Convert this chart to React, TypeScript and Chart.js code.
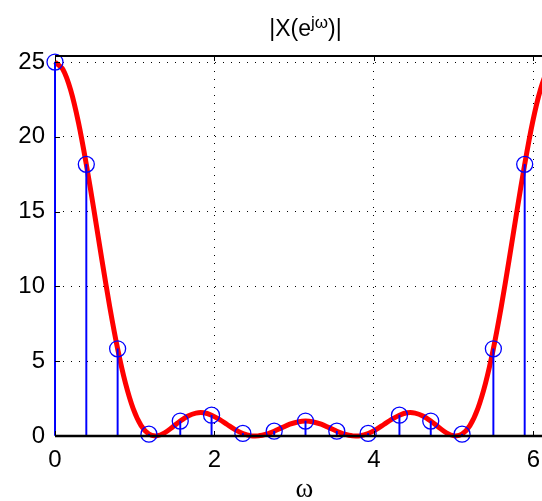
import { useEffect, useRef } from "react";
import { Chart, registerables } from "chart.js";

Chart.register(...registerables);

// continuous spectrum |X(e^jw)| samples
const curveOmega = [
  0, 0.0982, 0.1963, 0.2945, 0.3927, 0.4909, 0.589, 0.6872, 0.7854, 0.8836, 0.9817,
  1.0799, 1.1781, 1.2763, 1.3744, 1.4726, 1.5708, 1.669, 1.7671, 1.8653, 1.9635,
  2.0617, 2.1598, 2.258, 2.3562, 2.4544, 2.5525, 2.6507, 2.7489, 2.8471, 2.9452,
  3.0434, 3.1416, 3.2398, 3.3379, 3.4361, 3.5343, 3.6325, 3.7306, 3.8288, 3.927,
  4.0252, 4.1233, 4.2215, 4.3197, 4.4179, 4.516, 4.6142, 4.7124, 4.8106, 4.9087,
  5.0069, 5.1051, 5.2033, 5.3014, 5.3996, 5.4978, 5.596, 5.6941, 5.7923, 5.8905,
  5.9887, 6.0868, 6.185, 6.2832,
];
const curveMag = [
  25, 24.52, 23.13, 20.95, 18.16, 15.02, 11.75, 8.62, 5.83, 3.53, 1.81,
  0.69, 0.12, 0.01, 0.21, 0.59, 1.0, 1.34, 1.53, 1.55, 1.39,
  1.11, 0.77, 0.43, 0.17, 0.02, 0.01, 0.12, 0.32, 0.56, 0.79,
  0.94, 1.0, 0.94, 0.79, 0.56, 0.32, 0.12, 0.01, 0.02, 0.17,
  0.43, 0.77, 1.11, 1.39, 1.55, 1.53, 1.34, 1.0, 0.59, 0.21,
  0.01, 0.12, 0.69, 1.81, 3.53, 5.83, 8.62, 11.75, 15.02, 18.16,
  20.95, 23.13, 24.52, 25,
];

// DFT samples (stems)
const dftOmega = [
  0, 0.3927, 0.7854, 1.1781, 1.5708, 1.9635, 2.3562, 2.7489, 3.1416, 3.5343,
  3.927, 4.3197, 4.7124, 5.1051, 5.4978, 5.8905,
];
const dftMag = [
  25, 18.16, 5.83, 0.12, 1.0, 1.39, 0.17, 0.32, 1.0, 0.32, 0.17, 1.39, 1.0, 0.12,
  5.83, 18.16,
];

const xTicks = [0, 2, 4, 6];
const yTicks = [0, 5, 10, 15, 20, 25];
const xMin = 0;
const xMax = 6.2832;
const yMin = 0;
const yMax = 25.47;

const titleMain1 = "|X(e";
const titleSup = "jω";
const titleMain2 = ")|";
const xLabel = "ω";

const SANS = '"Liberation Sans", Arial, Helvetica, sans-serif';
const SERIF = '"Liberation Serif", "Times New Roman", serif';

const decorPlugin = {
  id: "decor",
  beforeDatasetsDraw(chart: any) {
    const { ctx, chartArea: a } = chart;
    ctx.save();
    ctx.strokeStyle = "#000";
    ctx.lineWidth = 1;
    ctx.beginPath();
    ctx.moveTo(a.left + 0.5, a.top);
    ctx.lineTo(a.left + 0.5, a.bottom);
    ctx.stroke();
    ctx.restore();
  },
  afterDatasetsDraw(chart: any) {
    const { ctx, chartArea: a, scales } = chart;
    const x = scales.x;
    const y = scales.y;
    ctx.save();
    ctx.strokeStyle = "#000";
    // top border
    ctx.lineWidth = 2;
    ctx.beginPath();
    ctx.moveTo(a.left, a.top + 1);
    ctx.lineTo(a.right, a.top + 1);
    ctx.stroke();
    // right border
    ctx.lineWidth = 1;
    ctx.beginPath();
    ctx.moveTo(a.right - 0.5, a.top);
    ctx.lineTo(a.right - 0.5, a.bottom);
    ctx.stroke();
    // baseline at 0
    const y0 = y.getPixelForValue(0);
    ctx.lineWidth = 2.5;
    ctx.beginPath();
    ctx.moveTo(a.left, y0);
    ctx.lineTo(a.right, y0);
    ctx.stroke();
    // tick marks
    ctx.lineWidth = 1;
    const tl = 5;
    ctx.beginPath();
    for (const v of xTicks) {
      const px = Math.round(x.getPixelForValue(v)) + 0.5;
      ctx.moveTo(px, a.top);
      ctx.lineTo(px, a.top + tl + 1);
      ctx.moveTo(px, a.bottom);
      ctx.lineTo(px, a.bottom - tl);
    }
    for (const v of yTicks) {
      const py = Math.round(y.getPixelForValue(v)) + 0.5;
      ctx.moveTo(a.left, py);
      ctx.lineTo(a.left + tl, py);
      ctx.moveTo(a.right, py);
      ctx.lineTo(a.right - tl, py);
    }
    ctx.stroke();
    ctx.restore();
  },
  afterDraw(chart: any) {
    const { ctx, chartArea: a } = chart;
    const cx = (a.left + a.right) / 2;
    ctx.save();
    ctx.fillStyle = "#000";
    ctx.textBaseline = "alphabetic";
    ctx.textAlign = "left";
    const mainFont = `23px ${SANS}`;
    const supFont = `17px ${SANS}`;
    ctx.font = mainFont;
    const w1 = ctx.measureText(titleMain1).width;
    const w3 = ctx.measureText(titleMain2).width;
    ctx.font = supFont;
    const w2 = ctx.measureText(titleSup).width;
    const total = w1 + w2 + w3;
    let sx = cx - total / 2;
    ctx.font = mainFont;
    ctx.fillText(titleMain1, sx, 36);
    sx += w1;
    ctx.font = supFont;
    ctx.fillText(titleSup, sx, 28);
    sx += w2;
    ctx.font = mainFont;
    ctx.fillText(titleMain2, sx, 36);
    // x label
    ctx.font = `27px ${SERIF}`;
    ctx.textAlign = "center";
    ctx.fillText(xLabel, cx - 1, 497);
    ctx.restore();
  },
};

export default function App() {
  const ref = useRef<HTMLCanvasElement | null>(null);

  useEffect(() => {
    document.body.style.margin = "0";
    document.body.style.overflow = "hidden";
    const canvas = ref.current;
    if (!canvas) return;
    const chart = new Chart(canvas, {
      type: "line",
      data: {
        datasets: [
          {
            type: "line",
            label: "curve",
            data: curveOmega.map((w, i) => ({ x: w, y: curveMag[i] })),
            borderColor: "#ff0000",
            borderWidth: 5,
            pointRadius: 0,
            tension: 0.3,
            fill: false,
            order: 3,
            clip: false,
          },
          {
            type: "bar",
            label: "stems",
            data: dftOmega.map((w, i) => ({ x: w, y: dftMag[i] })),
            backgroundColor: "#0000ff",
            borderWidth: 0,
            barThickness: 1.3,
            order: 2,
            clip: false,
          } as any,
          {
            type: "line",
            label: "markers",
            data: dftOmega.map((w, i) => ({ x: w, y: dftMag[i] })),
            showLine: false,
            pointRadius: 8,
            pointStyle: "circle",
            pointBorderColor: "#0000ff",
            pointBackgroundColor: "rgba(0,0,0,0)",
            pointBorderWidth: 1.3,
            order: 1,
            clip: false,
          },
        ],
      },
      options: {
        animation: false,
        responsive: false,
        events: [],
        layout: { padding: { left: 0, right: 44, top: 55, bottom: 0 } },
        plugins: {
          legend: { display: false },
          tooltip: { enabled: false },
          title: { display: false },
        },
        scales: {
          x: {
            type: "linear",
            min: xMin,
            max: xMax,
            offset: false,
            afterBuildTicks: (s: any) => {
              s.ticks = xTicks.map((v) => ({ value: v }));
            },
            afterFit: (s: any) => {
              s.height = 65;
            },
            ticks: {
              font: { family: SANS, size: 24 },
              color: "#000",
              padding: 10,
              maxRotation: 0,
              callback: (v: any) => String(v),
            },
            grid: {
              offset: false,
              drawTicks: false,
              color: "#000",
              lineWidth: 1,
            },
            border: { display: false, dash: [1, 7] },
          },
          y: {
            type: "linear",
            min: yMin,
            max: yMax,
            afterBuildTicks: (s: any) => {
              s.ticks = yTicks.map((v) => ({ value: v }));
            },
            afterFit: (s: any) => {
              s.width = 55;
            },
            ticks: {
              font: { family: SANS, size: 24 },
              color: "#000",
              padding: 10,
              callback: (v: any) => String(v),
            },
            grid: {
              drawTicks: false,
              color: "#000",
              lineWidth: 1,
            },
            border: { display: false, dash: [1, 7] },
          },
        },
      },
      plugins: [decorPlugin],
    });
    return () => chart.destroy();
  }, []);

  return (
    <div style={{ width: 542, height: 501, overflow: "hidden", position: "relative" }}>
      <canvas ref={ref} width={600} height={501} style={{ width: 600, height: 501, display: "block" }} />
    </div>
  );
}
